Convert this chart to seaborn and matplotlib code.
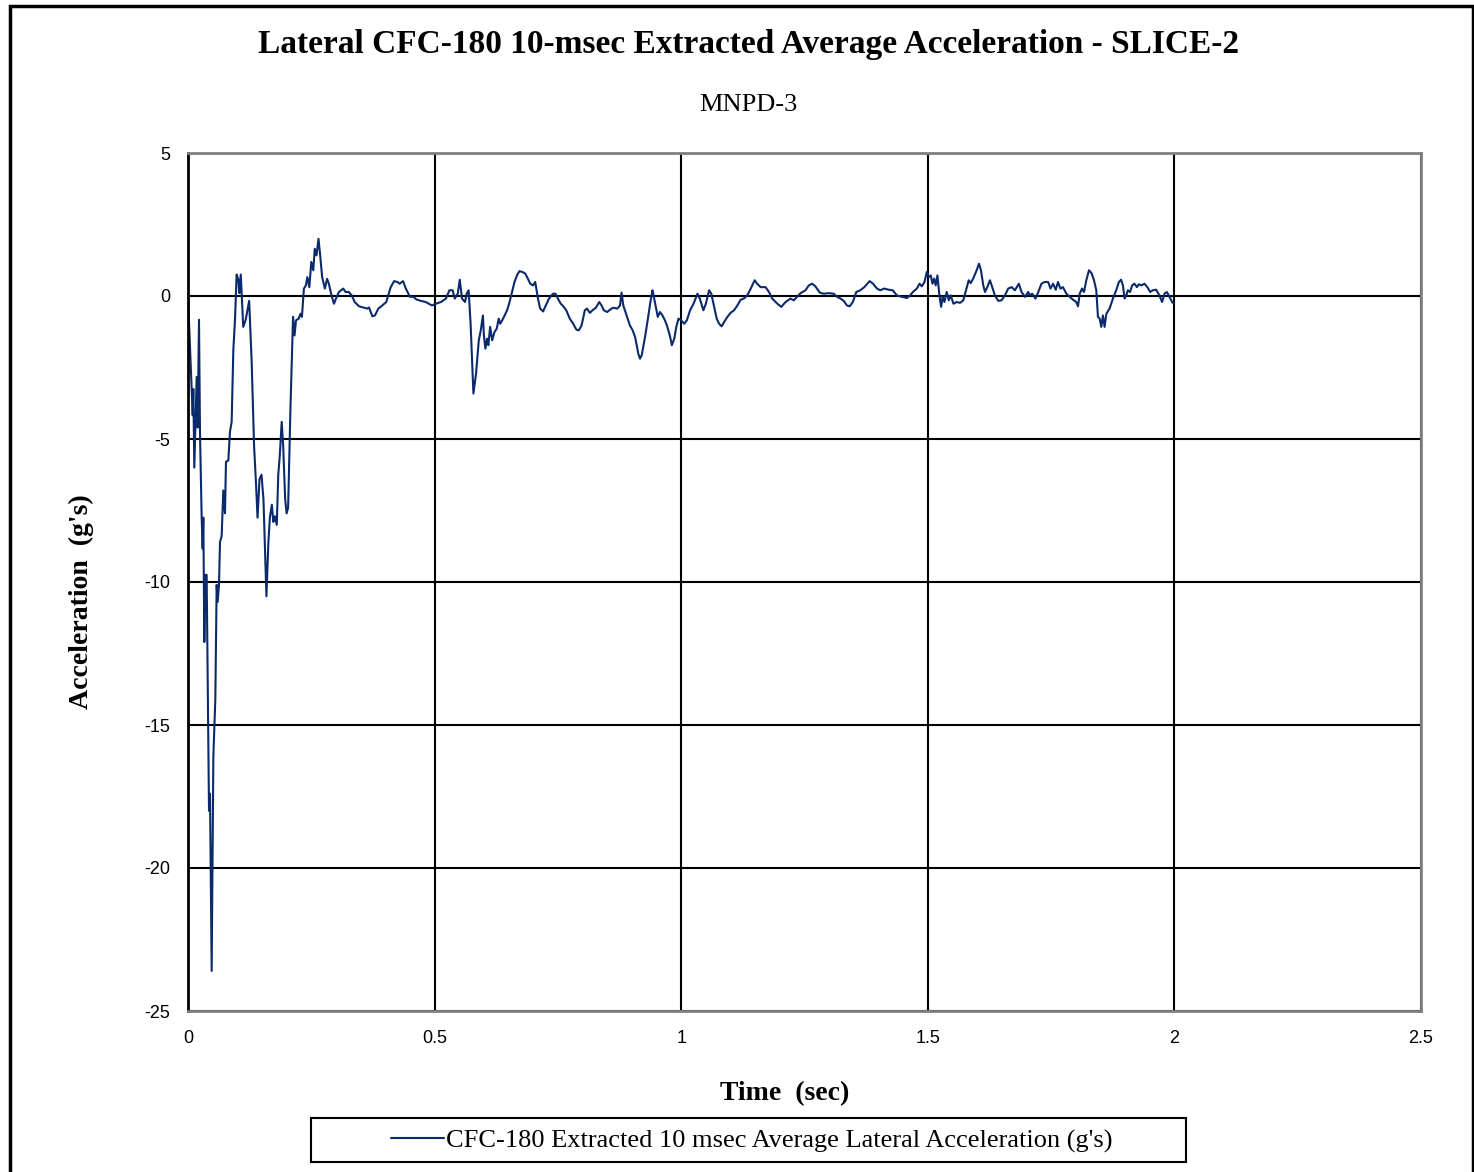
import numpy as np
import pandas as pd
import seaborn as sns
import matplotlib.pyplot as plt
from matplotlib.patches import Rectangle

time_s = [
    0.0, 0.0074, 0.0095, 0.0108, 0.0128, 0.0176, 0.0196, 0.0223, 0.0243, 0.0277,
    0.0297, 0.0311, 0.0331, 0.0351, 0.0378, 0.0405, 0.0426, 0.0446, 0.048, 0.0514,
    0.0554, 0.0581, 0.0601, 0.0628, 0.0649, 0.0682, 0.0716, 0.075, 0.077, 0.0818,
    0.0851, 0.0885, 0.0919, 0.0953, 0.0986, 0.102, 0.104, 0.107, 0.112, 0.117,
    0.124, 0.129, 0.134, 0.138, 0.141, 0.145, 0.149, 0.153, 0.157, 0.159,
    0.163, 0.166, 0.170, 0.173, 0.176, 0.18, 0.183, 0.186, 0.19, 0.193,
    0.197, 0.2, 0.203, 0.2076, 0.213, 0.216, 0.219, 0.2245, 0.228, 0.231,
    0.235, 0.239, 0.242, 0.246, 0.250, 0.254, 0.257, 0.2605, 0.2646, 0.268,
    0.272, 0.2775, 0.282, 0.2856, 0.291, 0.296, 0.3, 0.306, 0.3148, 0.3195,
    0.326, 0.332, 0.338, 0.3467, 0.357, 0.3636, 0.367, 0.3738, 0.379, 0.386,
    0.394, 0.402, 0.411, 0.418, 0.4246, 0.429, 0.436, 0.4417, 0.450, 0.457,
    0.463, 0.472, 0.482, 0.4946, 0.5027, 0.513, 0.523, 0.530, 0.5366, 0.541,
    0.547, 0.551, 0.5556, 0.5617, 0.565, 0.569, 0.573, 0.5787, 0.584, 0.5896,
    0.5936, 0.598, 0.6, 0.603, 0.6065, 0.609, 0.6126, 0.6167, 0.6214, 0.626,
    0.630, 0.633, 0.637, 0.642, 0.647, 0.652, 0.657, 0.662, 0.667, 0.672,
    0.678, 0.684, 0.689, 0.694, 0.6995, 0.704, 0.7096, 0.714, 0.72, 0.7246,
    0.732, 0.74, 0.745, 0.75, 0.7558, 0.7605, 0.767, 0.774, 0.781, 0.7877,
    0.7924, 0.798, 0.8046, 0.809, 0.8148, 0.82, 0.827, 0.8338, 0.8385, 0.843,
    0.85, 0.8555, 0.862, 0.8704, 0.876, 0.879, 0.8826, 0.8894, 0.896, 0.9016,
    0.9064, 0.9098, 0.913, 0.9165, 0.92, 0.9267, 0.932, 0.937, 0.9417, 0.944,
    0.9485, 0.9525, 0.957, 0.962, 0.967, 0.972, 0.9776, 0.981, 0.986, 0.99,
    0.9946, 1.0, 1.006, 1.0115, 1.018, 1.025, 1.033, 1.0377, 1.045, 1.05,
    1.0566, 1.061, 1.0667, 1.072, 1.0768, 1.082, 1.087, 1.0937, 1.1, 1.1071,
    1.1139, 1.1206, 1.127, 1.134, 1.141, 1.149, 1.154, 1.161, 1.171, 1.178,
    1.1846, 1.195, 1.203, 1.2116, 1.2217, 1.2284, 1.235, 1.242, 1.252, 1.2587,
    1.2655, 1.272, 1.281, 1.289, 1.2992, 1.3093, 1.316, 1.323, 1.3295, 1.336,
    1.3416, 1.348, 1.355, 1.3632, 1.3713, 1.382, 1.389, 1.397, 1.4036, 1.4117,
    1.4205, 1.429, 1.4373, 1.4474, 1.4575, 1.4643, 1.4697, 1.4778, 1.4832, 1.488,
    1.4933, 1.498, 1.502, 1.506, 1.5094, 1.5128, 1.516, 1.5195, 1.5236, 1.527,
    1.530, 1.5337, 1.5384, 1.5425, 1.5465, 1.552, 1.5586, 1.5654, 1.572, 1.5775,
    1.583, 1.587, 1.592, 1.5977, 1.6038, 1.6078, 1.6125, 1.616, 1.6206, 1.626,
    1.6307, 1.636, 1.6429, 1.6496, 1.6563, 1.663, 1.67, 1.6765, 1.6846, 1.69,
    1.697, 1.7035, 1.707, 1.7116, 1.7183, 1.724, 1.7305, 1.737, 1.744, 1.7487,
    1.754, 1.7594, 1.764, 1.769, 1.774, 1.781, 1.7877, 1.7945, 1.801, 1.8046,
    1.808, 1.8127, 1.8167, 1.8214, 1.8268, 1.832, 1.837, 1.8416, 1.845, 1.8484,
    1.8518, 1.855, 1.8585, 1.862, 1.8686, 1.8753, 1.882, 1.8875, 1.892, 1.8956,
    1.899, 1.9023, 1.9057, 1.910, 1.9144, 1.919, 1.9239, 1.928, 1.9326, 1.9394,
    1.946, 1.9508, 1.9562, 1.963, 1.9697, 1.975, 1.9798, 1.9845, 1.9886, 1.9953,
    1.9987,
]
accel_g = [
    0.0, -3.25, -4.17, -3.25, -6.0, -2.83, -4.6, -0.83, -4.75, -7.75,
    -8.83, -7.75, -12.1, -9.75, -9.75, -14.4, -18.0, -17.4, -23.6, -16.1,
    -14.1, -10.1, -10.7, -10.1, -8.6, -8.4, -6.8, -7.6, -5.8, -5.75,
    -4.75, -4.4, -1.9, -0.83, 0.75, 0.58, 0.1, 0.75, -1.08, -0.83,
    -0.17, -2.25, -5.25, -6.6, -7.75, -6.4, -6.25, -7.1, -9.4, -10.5,
    -8.6, -7.75, -7.3, -7.9, -7.7, -8.0, -6.25, -5.6, -4.4, -5.25,
    -7.1, -7.6, -7.4, -4.0, -0.73, -1.38, -0.85, -0.79, -0.62, -0.73,
    0.26, 0.37, 0.66, 0.31, 1.19, 0.9, 1.65, 1.42, 2.0, 1.42,
    0.66, 0.26, 0.6, 0.43, 0.02, -0.27, -0.09, 0.14, 0.26, 0.14,
    0.14, 0.02, -0.21, -0.36, -0.41, -0.44, -0.4, -0.71, -0.68, -0.44,
    -0.33, -0.21, 0.31, 0.52, 0.49, 0.43, 0.52, 0.26, -0.03, -0.03,
    -0.12, -0.17, -0.21, -0.33, -0.27, -0.21, -0.09, 0.2, 0.2, -0.09,
    0.08, 0.57, -0.09, -0.21, 0.08, 0.2, -0.97, -3.41, -2.72, -1.55,
    -1.2, -0.68, -1.38, -1.84, -1.49, -1.72, -1.08, -1.55, -1.26, -1.14,
    -0.79, -0.97, -0.85, -0.68, -0.5, -0.21, 0.14, 0.49, 0.72, 0.87,
    0.84, 0.78, 0.61, 0.43, 0.37, 0.49, -0.09, -0.44, -0.54, -0.36,
    -0.09, 0.08, 0.08, -0.09, -0.27, -0.35, -0.5, -0.79, -0.97, -1.18,
    -1.2, -1.03, -0.5, -0.44, -0.59, -0.5, -0.41, -0.21, -0.33, -0.5,
    -0.56, -0.48, -0.41, -0.44, -0.33, 0.12, -0.33, -0.68, -1.03, -1.2,
    -1.43, -1.72, -2.02, -2.19, -2.07, -1.43, -0.85, -0.27, 0.2, 0.02,
    -0.38, -0.73, -0.56, -0.68, -0.85, -1.08, -1.43, -1.72, -1.49, -1.08,
    -0.79, -0.85, -0.97, -0.85, -0.5, -0.27, 0.08, -0.09, -0.5, -0.27,
    0.2, 0.08, -0.38, -0.79, -0.97, -1.06, -0.91, -0.73, -0.59, -0.5,
    -0.33, -0.13, -0.09, 0.02, 0.26, 0.55, 0.43, 0.31, 0.31, 0.14,
    -0.09, -0.27, -0.38, -0.21, -0.09, -0.15, -0.03, 0.1, 0.2, 0.37,
    0.43, 0.34, 0.12, 0.08, 0.1, 0.08, -0.03, -0.09, -0.17, -0.33,
    -0.36, -0.21, 0.14, 0.2, 0.31, 0.52, 0.43, 0.26, 0.2, 0.26,
    0.22, 0.2, 0.02, -0.03, -0.07, 0.02, 0.14, 0.26, 0.43, 0.34,
    0.49, 0.84, 0.66, 0.72, 0.43, 0.61, 0.37, 0.72, 0.02, -0.38,
    -0.03, -0.21, 0.14, -0.15, 0.02, -0.27, -0.21, -0.24, -0.15, 0.2,
    0.55, 0.45, 0.61, 0.84, 1.13, 0.9, 0.37, 0.14, 0.31, 0.55,
    0.31, 0.02, -0.17, -0.15, 0.02, 0.26, 0.31, 0.2, 0.43, 0.14,
    -0.03, 0.14, 0.02, 0.08, -0.09, 0.14, 0.43, 0.49, 0.49, 0.26,
    0.43, 0.22, 0.49, 0.26, 0.31, 0.08, -0.03, -0.13, -0.21, -0.36,
    0.08, 0.26, 0.14, 0.55, 0.9, 0.8, 0.55, 0.2, -0.73, -0.79,
    -1.08, -0.68, -1.08, -0.62, -0.44, -0.09, 0.2, 0.49, 0.57, 0.37,
    -0.09, 0.02, 0.2, 0.14, 0.37, 0.43, 0.31, 0.41, 0.37, 0.43,
    0.29, 0.14, 0.2, 0.22, 0.02, -0.21, 0.08, 0.14, 0.02, -0.21,
    -0.27,
]

x_ticks = [0, 0.5, 1, 1.5, 2, 2.5]
x_tick_labels = ["0", "0.5", "1", "1.5", "2", "2.5"]
y_ticks = [5, 0, -5, -10, -15, -20, -25]

df = pd.DataFrame({"Time": time_s, "Accel": accel_g})

sns.set_style("white")
plt.rcParams["text.color"] = "black"
plt.rcParams["axes.labelcolor"] = "black"
plt.rcParams["xtick.color"] = "black"
plt.rcParams["ytick.color"] = "black"
serif = ["Liberation Serif", "DejaVu Serif"]
sans = ["Liberation Sans", "DejaVu Sans"]

fig = plt.figure(figsize=(14.74, 11.72), dpi=100)
ax = fig.add_axes([188 / 1474, 1 - 1011 / 1172, (1421 - 188) / 1474, (1011 - 153) / 1172])

sns.lineplot(data=df, x="Time", y="Accel", ax=ax, color="#0b2a6b", linewidth=1.5,
             sort=False, estimator=None,
             label="CFC-180 Extracted 10 msec Average Lateral Acceleration (g's)")

ax.set_xlim(0, 2.5)
ax.set_ylim(-25, 5)
ax.set_xticks(x_ticks)
ax.set_yticks(y_ticks)
ax.set_xticklabels(x_tick_labels, family=sans, fontsize=13, color="black")
ax.set_yticklabels([str(v) for v in y_ticks], family=sans, fontsize=13, color="black")
ax.tick_params(axis="y", direction="out", length=7, width=1.5, color="black", pad=6)
ax.tick_params(axis="x", length=0, pad=14)

ax.grid(True, color="black", linewidth=1.5)
ax.set_axisbelow(True)
for side in ["top", "right", "bottom"]:
    ax.spines[side].set_color("#808080")
    ax.spines[side].set_linewidth(2)
ax.spines["left"].set_color("black")
ax.spines["left"].set_linewidth(2)

ax.set_xlabel("Time  (sec)", family=serif, fontsize=20, fontweight="bold",
              labelpad=24, color="black")
ax.set_ylabel("Acceleration  (g's)", family=serif, fontsize=20, fontweight="bold",
              labelpad=36, color="black")
ax.xaxis.label.set_x((785 - 188) / 1233)
ax.yaxis.label.set_y((1011 - 602) / 858)

fig.text(0.508, 1 - 45 / 1172, "Lateral CFC-180 10-msec Extracted Average Acceleration - SLICE-2",
         family=serif, fontsize=24, fontweight="bold", ha="center", va="center", color="black")
fig.text(0.508, 1 - 105 / 1172, "MNPD-3", family=serif, fontsize=19, ha="center",
         va="center", color="black")

ax.get_legend().remove()
leg = fig.legend(loc="center", bbox_to_anchor=(752 / 1474, 1 - 1141 / 1172),
                 prop={"family": serif, "size": 19}, frameon=False,
                 handlelength=2.0, handletextpad=0.1)
for txt in leg.get_texts():
    txt.set_color("black")
fig.patches.append(Rectangle((311 / 1474, 1 - 1162 / 1172), (1186 - 311) / 1474, 44 / 1172,
                             transform=fig.transFigure, fill=False,
                             edgecolor="black", linewidth=1.5))

fig.patches.append(Rectangle((10 / 1474, -0.02), (1473 - 10) / 1474, 1.02 - 6 / 1172,
                             transform=fig.transFigure, fill=False,
                             edgecolor="black", linewidth=2.5))

fig.savefig("out.png", dpi=100)
